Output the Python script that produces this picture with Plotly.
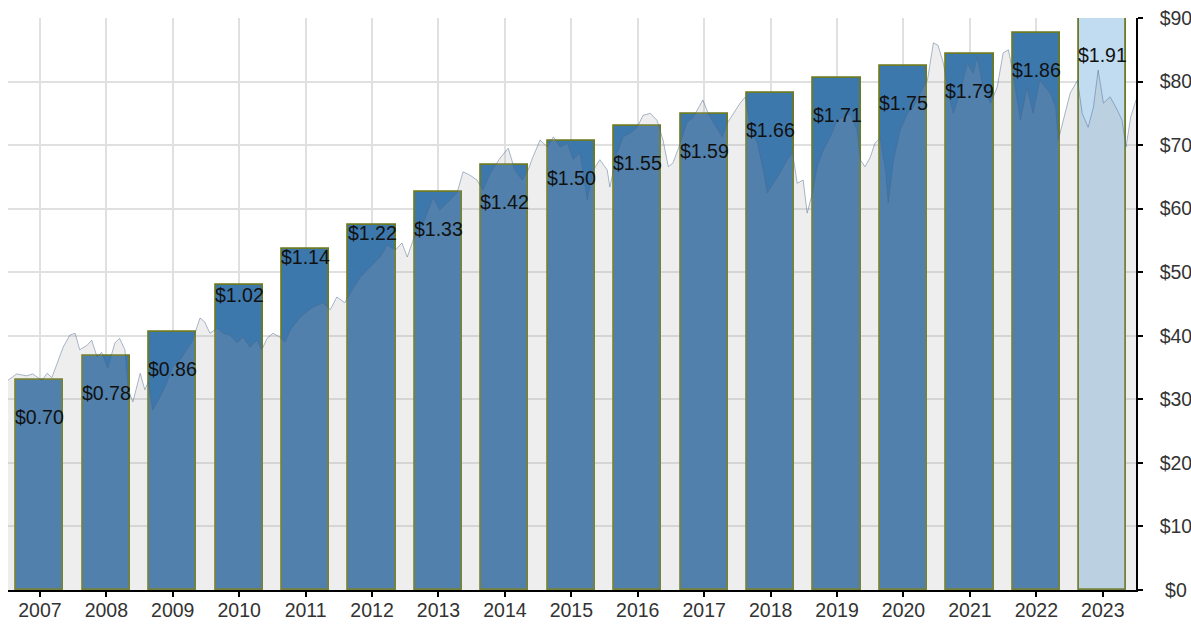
import plotly.graph_objects as go

# ---- data ----
years = list(range(2007, 2024))
year_labels = [str(y) for y in years]
dividends = [0.70, 0.78, 0.86, 1.02, 1.14, 1.22, 1.33, 1.42, 1.50,
             1.55, 1.59, 1.66, 1.71, 1.75, 1.79, 1.86, 1.91]
dividend_labels = ["$%.2f" % d for d in dividends]

# price history: time in year-axis units (tick = mid-year), price in $
price_t = [2006.52, 2006.65, 2006.80, 2006.89, 2007.03, 2007.11, 2007.18, 2007.26, 2007.35, 2007.45,
           2007.53, 2007.60, 2007.71, 2007.78, 2007.86, 2007.93, 2008.02, 2008.13, 2008.20, 2008.28,
           2008.33, 2008.40, 2008.51, 2008.58, 2008.63, 2008.70, 2008.81, 2008.91, 2009.00, 2009.11,
           2009.21, 2009.30, 2009.41, 2009.48, 2009.56, 2009.67, 2009.76, 2009.86, 2009.97, 2010.06,
           2010.16, 2010.27, 2010.34, 2010.42, 2010.51, 2010.61, 2010.69, 2010.77, 2010.92, 2011.11,
           2011.26, 2011.37, 2011.47, 2011.59, 2011.70, 2011.82, 2011.97, 2012.12, 2012.23, 2012.35,
           2012.45, 2012.53, 2012.62, 2012.77, 2012.92, 2013.02, 2013.13, 2013.28, 2013.37, 2013.47,
           2013.58, 2013.67, 2013.78, 2013.93, 2014.05, 2014.15, 2014.26, 2014.35, 2014.42, 2014.53,
           2014.64, 2014.73, 2014.83, 2014.94, 2015.03, 2015.13, 2015.24, 2015.33, 2015.43, 2015.54,
           2015.58, 2015.69, 2015.78, 2015.89, 2015.99, 2016.08, 2016.19, 2016.29, 2016.38, 2016.46,
           2016.53, 2016.64, 2016.74, 2016.83, 2016.98, 2017.06, 2017.14, 2017.27, 2017.35, 2017.44,
           2017.54, 2017.62, 2017.69, 2017.80, 2017.89, 2017.95, 2018.04, 2018.14, 2018.25, 2018.33,
           2018.40, 2018.49, 2018.55, 2018.63, 2018.70, 2018.79, 2018.90, 2019.00, 2019.20, 2019.30,
           2019.35, 2019.42, 2019.50, 2019.57, 2019.65, 2019.73, 2019.77, 2019.85, 2019.95, 2020.06,
           2020.15, 2020.25, 2020.36, 2020.45, 2020.52, 2020.60, 2020.70, 2020.75, 2020.85, 2020.96,
           2021.05, 2021.11, 2021.20, 2021.31, 2021.41, 2021.50, 2021.58, 2021.64, 2021.76, 2021.86,
           2021.95, 2022.05, 2022.21, 2022.29, 2022.33, 2022.41, 2022.51, 2022.62, 2022.69, 2022.78,
           2022.86, 2022.93, 2023.01, 2023.11, 2023.22, 2023.29, 2023.35, 2023.42, 2023.50]
price = [33.0, 34.0, 33.7, 34.0, 33.0, 34.1, 33.4, 35.7, 38.2, 40.1,
         40.4, 37.8, 38.5, 39.3, 36.7, 37.4, 34.9, 38.9, 39.6, 37.8,
         31.5, 29.6, 34.1, 31.5, 32.7, 28.3, 30.4, 32.6, 35.1, 36.2,
         37.8, 39.3, 42.8, 42.2, 40.4, 41.2, 40.4, 40.1, 38.9, 39.8,
         38.2, 39.3, 37.8, 39.6, 40.4, 39.8, 39.0, 40.9, 43.0, 44.5,
         45.2, 44.1, 46.1, 45.2, 47.2, 49.2, 50.8, 52.4, 54.3, 53.5,
         54.6, 52.4, 55.1, 57.7, 61.8, 59.8, 60.9, 62.5, 65.8, 65.3,
         64.5, 62.9, 65.6, 68.0, 69.5, 66.1, 64.5, 66.1, 68.1, 70.8,
         69.7, 71.3, 69.7, 70.3, 67.7, 68.8, 61.4, 66.1, 67.7, 66.1,
         63.4, 68.8, 71.3, 71.9, 72.8, 74.7, 75.0, 73.9, 70.8, 66.6,
         67.2, 70.3, 73.6, 74.3, 77.1, 75.0, 73.5, 71.3, 73.5, 75.0,
         76.6, 77.6, 72.8, 70.3, 66.1, 62.5, 64.0, 65.6, 67.7, 68.8,
         64.0, 64.5, 59.3, 62.5, 66.6, 69.2, 71.3, 73.9, 75.0, 72.4,
         67.7, 66.6, 68.1, 70.3, 71.1, 66.1, 60.9, 67.7, 72.4, 75.0,
         76.0, 78.2, 80.2, 86.1, 85.7, 82.9, 77.1, 75.0, 78.2, 82.9,
         81.3, 83.9, 79.1, 76.6, 79.1, 84.5, 85.0, 81.8, 73.9, 79.1,
         75.0, 80.2, 78.2, 76.0, 70.8, 73.9, 78.2, 80.2, 75.0, 72.8,
         76.0, 81.8, 76.6, 77.6, 75.5, 73.9, 69.7, 74.4, 77.1]

price_tickvals = [0, 10, 20, 30, 40, 50, 60, 70, 80, 90]
price_ticktext = ["\u00a0$0", "$10", "$20", "$30", "$40", "$50", "$60", "$70", "$80", "$90"]

# ---- style ----
FONT = "Liberation Sans, Arial, sans-serif"
FS = 19.5
bar_colors = ["#3d78ad"] * (len(years) - 1) + ["#c1dcf1"]
label_drop = {2010: 10, 2011: 8, 2012: 8}

fig = go.Figure()

fig.add_trace(go.Bar(
    x=years, y=dividends, width=0.71,
    marker=dict(color=bar_colors, line=dict(color="#6b7a24", width=1.8)),
    yaxis="y", hoverinfo="skip", showlegend=False,
))

fig.add_trace(go.Scatter(
    x=price_t, y=price, yaxis="y2", mode="lines",
    line=dict(color="rgba(70,100,140,0.45)", width=1),
    fill="tozeroy", fillcolor="rgba(167,167,167,0.19)",
    hoverinfo="skip", showlegend=False,
))

for yr, d, txt in zip(years, dividends, dividend_labels):
    fig.add_annotation(
        x=yr, y=d, xref="x", yref="y", text=txt, showarrow=False,
        yanchor="middle", xanchor="center", yshift=-label_drop.get(yr, 37),
        font=dict(family=FONT, size=FS, color="#111111"),
    )

fig.update_layout(
    width=1191, height=630,
    margin=dict(l=8, r=55, t=18, b=40, autoexpand=False),
    paper_bgcolor="white", plot_bgcolor="white",
    font=dict(family=FONT, size=FS, color="#333333"),
    bargap=0,
    xaxis=dict(
        range=[2006.52, 2023.5], tickmode="array", tickvals=years, ticktext=year_labels,
        showgrid=True, gridcolor="#e0e0e0", gridwidth=1.5,
        showline=True, linecolor="black", linewidth=1.5,
        ticks="outside", ticklen=5, tickcolor="black", tickwidth=1.5,
        ticklabelstandoff=-3, automargin=False, ticklabeloverflow="allow",
        zeroline=False, fixedrange=True,
    ),
    yaxis=dict(range=[0, 1.91], visible=False, showgrid=False, fixedrange=True),
    yaxis2=dict(
        overlaying="y", side="right", anchor="x",
        range=[0, 90], tickmode="array", tickvals=price_tickvals, ticktext=price_ticktext,
        showgrid=True, gridcolor="#e0e0e0", gridwidth=1.5,
        showline=True, linecolor="black", linewidth=1.5,
        ticks="outside", ticklen=5, tickcolor="black", tickwidth=1.5,
        ticklabelstandoff=13, automargin=False, ticklabeloverflow="allow",
        zeroline=False, fixedrange=True,
    ),
)

fig.write_html(
    "out.html",
    config={"displayModeBar": False},
    post_script="document.body.style.margin='0';document.body.style.overflow='hidden';",
)
